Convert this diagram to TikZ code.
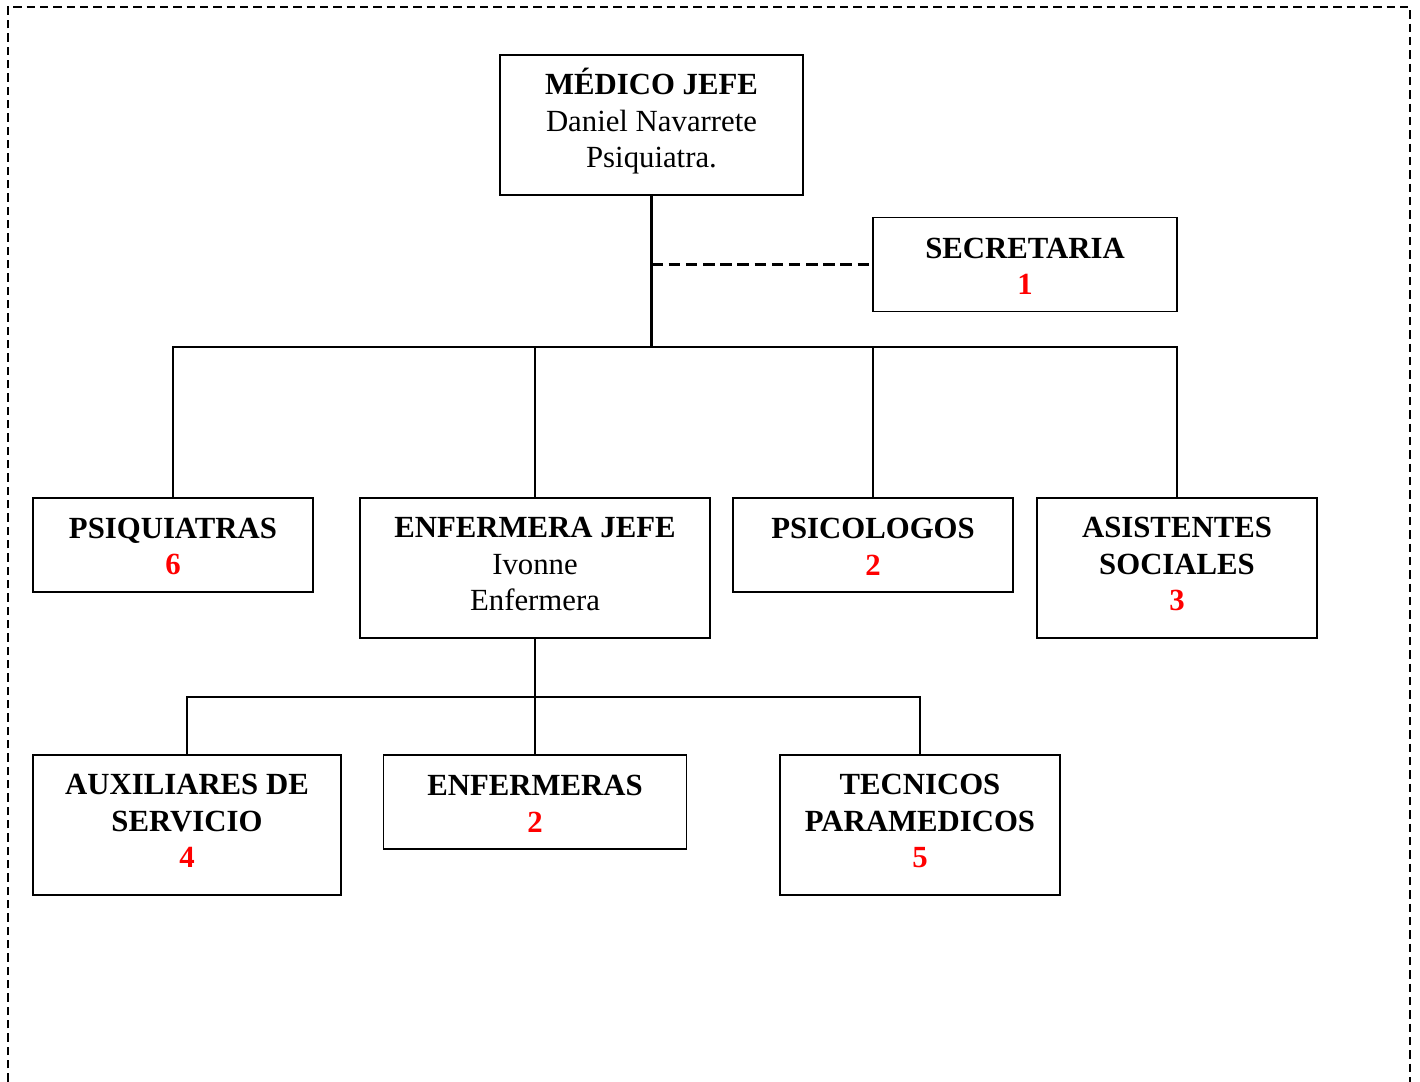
\documentclass[tikz,border=0pt]{standalone}
\usepackage{fontspec}
\setmainfont{Liberation Serif}
\newcommand\cifra[1]{\textcolor{red}{\textbf{#1}}}
\newcommand\alto{\rule{0pt}{9.2pt}}
\begin{document}
\begin{tikzpicture}[x=0.39pt,y=-0.39pt,
  caja/.style={draw, line width=0.6pt, align=center, inner sep=0pt,
    font=\fontsize{12}{14.2}\selectfont},
  dos/.style={caja, minimum height=36.6pt},
  tres/.style={caja, minimum height=54.6pt, execute at end node={\rule[-3.1pt]{0pt}{0pt}}},
  linea/.style={line width=0.6pt},
  tronco/.style={line width=0.9pt}]
\useasboundingbox (0,0) rectangle (1420,1082);
% marco
\draw[line width=0.8pt, dash pattern=on 3.2pt off 2pt] (8,1095) -- (8,7) -- (1410,7) -- (1410,1095);
% cajas
\node[tres, minimum width=118.2pt] (medico) at (651.5,125)
  {\textbf{MÉDICO JEFE}\\Daniel Navarrete\\Psiquiatra.\rule[-5.4pt]{0pt}{0pt}};
\node[dos, minimum width=118.6pt] (secretaria) at (1025,264.5)
  {\alto\textbf{SECRETARIA}\\\cifra{1}};
\node[dos, minimum width=109.2pt] (psiquiatras) at (173,545)
  {\alto\textbf{PSIQUIATRAS}\\\cifra{6}};
\node[tres, minimum width=136.5pt] (enfjefe) at (535,568)
  {\textbf{ENFERMERA JEFE}\\Ivonne\\Enfermera};
\node[dos, minimum width=109.2pt] (psicologos) at (873,545)
  {\alto\textbf{PSICOLOGOS}\\\cifra{2}};
\node[tres, minimum width=109.2pt] (asistentes) at (1177,568)
  {\textbf{ASISTENTES}\\\textbf{SOCIALES}\\\cifra{3}};
\node[tres, minimum width=120.1pt] (auxiliares) at (187,825)
  {\textbf{AUXILIARES DE}\\\textbf{SERVICIO}\\\cifra{4}};
\node[dos, minimum width=118.2pt] (enfermeras) at (535,802)
  {\alto\textbf{ENFERMERAS}\\\cifra{2}};
\node[tres, minimum width=109.2pt] (tecnicos) at (920,825)
  {\textbf{TECNICOS}\\\textbf{PARAMEDICOS}\\\cifra{5}};
% lineas
\coordinate (bus1) at (651.5,347);
\coordinate (bus2) at (535,697);
\draw[tronco] (medico.south) -- (bus1);
\draw[line width=0.8pt, dash pattern=on 4.5pt off 2.2pt] (medico.south |- secretaria.west) -- (secretaria.west);
\draw[linea] (psiquiatras.north) |- (asistentes.north |- bus1) -- (asistentes.north);
\draw[linea] (enfjefe.north) -- (enfjefe.north |- bus1);
\draw[linea] (psicologos.north) -- (psicologos.north |- bus1);
\draw[linea] (enfjefe.south) -- (bus2);
\draw[linea] (auxiliares.north) |- (tecnicos.north |- bus2) -- (tecnicos.north);
\draw[linea] (enfermeras.north) -- (enfermeras.north |- bus2);
\end{tikzpicture}
\end{document}
